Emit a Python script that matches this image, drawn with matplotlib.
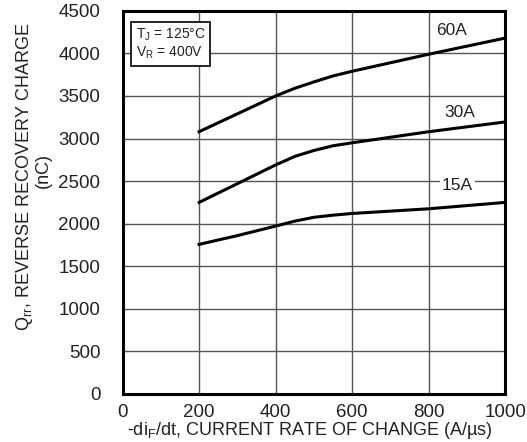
import matplotlib
matplotlib.use("Agg")
import matplotlib.pyplot as plt

plt.rcParams['font.family'] = ['Liberation Sans', 'DejaVu Sans']

x_60 = [200, 300, 400, 450, 500, 550, 600, 800, 1000]
q_60 = [3080, 3290, 3500, 3590, 3665, 3735, 3790, 3990, 4180]
x_30 = [200, 300, 400, 450, 500, 550, 600, 800, 1000]
q_30 = [2250, 2470, 2690, 2790, 2860, 2915, 2950, 3080, 3195]
x_15 = [200, 300, 400, 450, 500, 550, 600, 800, 1000]
q_15 = [1757, 1860, 1972, 2030, 2075, 2100, 2120, 2175, 2250]

xticks = [0, 200, 400, 600, 800, 1000]
yticks = [0, 500, 1000, 1500, 2000, 2500, 3000, 3500, 4000, 4500]

fig = plt.figure(figsize=(5.27, 4.42), dpi=100)
ax = fig.add_axes([0.2325, 0.1086, 0.7265, 0.867])

for xs, qs in [(x_60, q_60), (x_30, q_30), (x_15, q_15)]:
    ax.plot(xs, qs, color='black', lw=2.2, zorder=3)

ax.set_xlim(0, 1000)
ax.set_ylim(0, 4500)
ax.set_xticks(xticks)
ax.set_yticks(yticks)
ax.grid(True, color='#555555', lw=1.0)
ax.tick_params(length=0, labelsize=13.5, labelcolor='#222222')
ax.tick_params(axis='y', pad=16)
ax.tick_params(axis='x', pad=7)
for s in ax.spines.values():
    s.set_linewidth(2.2)

ax.text(860, 4270, '60A', fontsize=12.5, ha='center', va='center', zorder=4, color='#222222')
ax.text(880, 3310, '30A', fontsize=12.5, ha='center', va='center', zorder=4, color='#222222')
ax.text(875, 2450, '15A', fontsize=12.5, ha='center', va='center', zorder=4, color='#222222',
        bbox=dict(facecolor='white', edgecolor='none', pad=1.5))

ax.text(0.034, 0.958, 'T$_{\\mathregular{J}}$ = 125°C\nV$_{\\mathregular{R}}$ = 400V',
        transform=ax.transAxes, fontsize=10, ha='left', va='top', zorder=5,
        linespacing=1.1, color='#222222',
        bbox=dict(facecolor='white', edgecolor='black', lw=1.2, pad=3.5))

fig.text(0.047, 0.60, 'Q$_{\\mathregular{rr}}$, REVERSE RECOVERY CHARGE',
         rotation=90, ha='center', va='center', fontsize=13, color='#222222')
fig.text(0.083, 0.615, '(nC)', rotation=90, ha='center', va='center', fontsize=13, color='#222222')
fig.text(0.588, 0.027, '-di$_{\\mathregular{F}}$/dt, CURRENT RATE OF CHANGE (A/µs)',
         ha='center', va='center', fontsize=13, color='#222222')

fig.savefig('out.png', dpi=100)
